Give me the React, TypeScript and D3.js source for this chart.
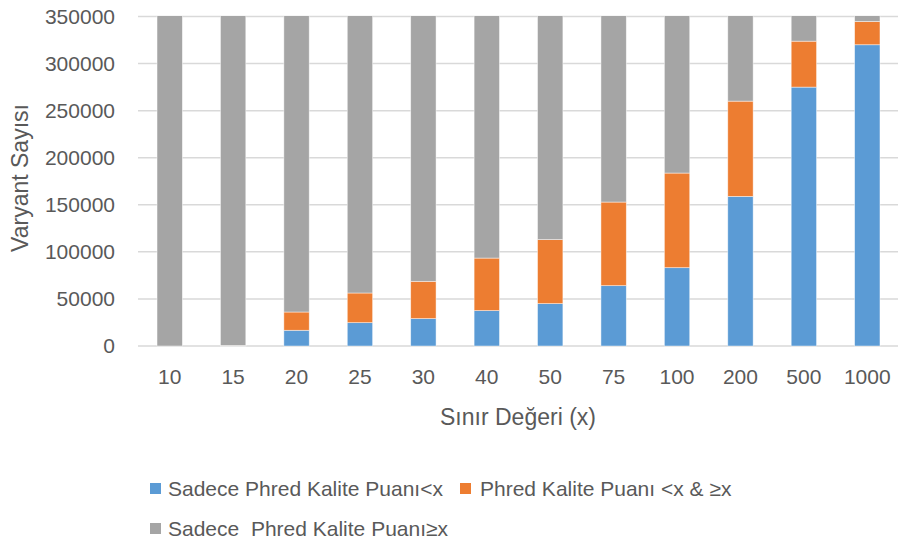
import React, { useRef, useEffect } from 'react';
import * as d3 from 'd3';

// threshold values on the x axis
const thresholds = ['10', '15', '20', '25', '30', '40', '50', '75', '100', '200', '500', '1000'];
// only low phred score (<x)
const onlyLow = [0, 300, 16700, 24800, 29100, 37600, 45000, 64100, 83200, 158900, 275000, 320000];
// both <x and >=x
const mixed = [0, 200, 19400, 31500, 39600, 55800, 68000, 88800, 100500, 101200, 48800, 24700];
// only high phred score (>=x)
const onlyHigh = [351200, 350700, 315100, 294900, 282500, 257800, 238200, 198300, 167500, 91100, 27400, 6500];
const yTicks = [0, 50000, 100000, 150000, 200000, 250000, 300000, 350000];

const seriesNames = ['Sadece Phred Kalite Puanı<x', 'Phred Kalite Puanı <x & ≥x', 'Sadece  Phred Kalite Puanı≥x'];
const colors = ['#5b9bd5', '#ed7d31', '#a5a5a5'];

const W = 898;
const H = 548;
const FONT = '"Liberation Sans", Arial, sans-serif';

const App = () => {
  const svgRef = useRef(null);

  useEffect(() => {
    const svg = d3.select(svgRef.current);
    svg.selectAll('*').remove();

    const x = d3.scaleBand().domain(thresholds).range([138, 899]).paddingInner(0.6).paddingOuter(0.3);
    const y = d3.scaleLinear().domain([0, 350000]).range([346, 16.5]);

    svg.append('defs').append('clipPath').attr('id', 'plot-clip')
      .append('rect').attr('x', 130).attr('y', 16).attr('width', 770).attr('height', 332);

    // gridlines
    svg.append('g')
      .selectAll('line')
      .data(yTicks)
      .join('line')
      .attr('x1', 138)
      .attr('x2', 898)
      .attr('y1', d => y(d))
      .attr('y2', d => y(d))
      .attr('stroke', '#d9d9d9')
      .attr('stroke-width', 1.5);

    const rows = thresholds.map((t, i) => ({ t, low: onlyLow[i], mix: mixed[i], high: onlyHigh[i] }));
    const stacked = d3.stack().keys(['low', 'mix', 'high'])(rows);

    svg.append('g')
      .attr('clip-path', 'url(#plot-clip)')
      .selectAll('g')
      .data(stacked)
      .join('g')
      .attr('fill', (d, i) => colors[i])
      .selectAll('rect')
      .data(d => d)
      .join('rect')
      .attr('x', d => x(d.data.t))
      .attr('width', x.bandwidth())
      .attr('y', d => y(d[1]))
      .attr('height', d => Math.max(0, y(d[0]) - y(d[1])))
      .attr('stroke', '#ffffff')
      .attr('stroke-opacity', 0.6)
      .attr('stroke-width', 0.75);

    // y labels
    svg.append('g')
      .selectAll('text')
      .data(yTicks)
      .join('text')
      .attr('x', 115)
      .attr('y', d => y(d))
      .attr('dy', '0.35em')
      .attr('text-anchor', 'end')
      .attr('font-family', FONT)
      .attr('font-size', 21)
      .attr('fill', '#595959')
      .text(d => d);

    // x labels
    svg.append('g')
      .selectAll('text')
      .data(thresholds)
      .join('text')
      .attr('x', d => x(d) + x.bandwidth() / 2)
      .attr('y', 384)
      .attr('text-anchor', 'middle')
      .attr('font-family', FONT)
      .attr('font-size', 21)
      .attr('fill', '#595959')
      .text(d => d);

    svg.append('text')
      .attr('x', 518)
      .attr('y', 425)
      .attr('text-anchor', 'middle')
      .attr('font-family', FONT)
      .attr('font-size', 23)
      .attr('fill', '#595959')
      .text('Sınır Değeri (x)');

    svg.append('text')
      .attr('transform', 'translate(28,178) rotate(-90)')
      .attr('text-anchor', 'middle')
      .attr('font-family', FONT)
      .attr('font-size', 23)
      .attr('fill', '#595959')
      .text('Varyant Sayısı');

    // legend
    const legendPos = [[150, 483], [460, 483], [150, 523]];
    const legend = svg.append('g')
      .selectAll('g')
      .data(seriesNames)
      .join('g')
      .attr('transform', (d, i) => `translate(${legendPos[i][0]},${legendPos[i][1]})`);
    legend.append('rect')
      .attr('width', 11)
      .attr('height', 11)
      .attr('fill', (d, i) => colors[i]);
    legend.append('text')
      .attr('x', (d, i) => (i === 1 ? 20 : 18))
      .attr('y', 5.5)
      .attr('dy', '0.35em')
      .attr('font-family', FONT)
      .attr('font-size', 21)
      .attr('fill', '#595959')
      .style('white-space', 'pre')
      .text(d => d);
  }, []);

  return (
    <svg
      ref={svgRef}
      width={W}
      height={H}
      style={{ position: 'absolute', left: 0, top: 0, background: '#fff' }}
    />
  );
};

export default App;
